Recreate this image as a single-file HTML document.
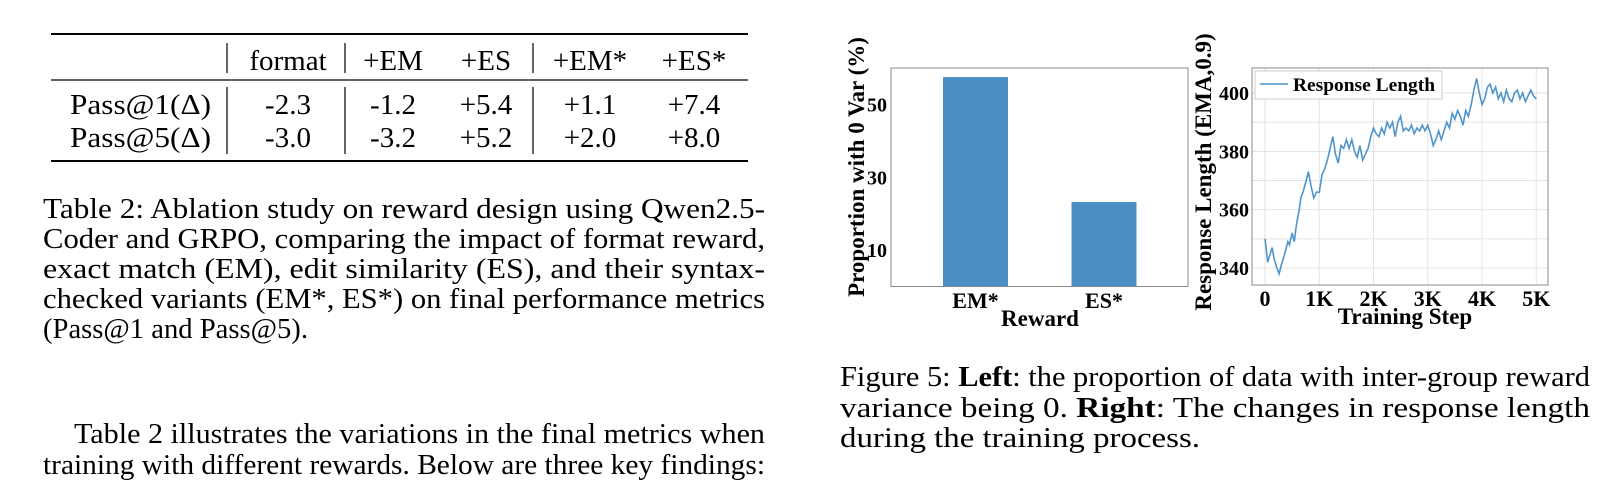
<!DOCTYPE html>
<html><head><meta charset="utf-8"><style>
html,body{margin:0;padding:0;background:#fff;width:1611px;height:491px;overflow:hidden}
svg{display:block}
.t{font-family:"Liberation Serif",serif;fill:#000}
.b{font-weight:bold}
</style></head><body>
<svg id="page" width="1611" height="491" viewBox="0 0 1611 491" xmlns="http://www.w3.org/2000/svg">
<g class="t" font-size="29">
  <line x1="51" y1="34" x2="748" y2="34" stroke="#000" stroke-width="2"/>
  <line x1="51" y1="80" x2="748" y2="80" stroke="#000" stroke-width="1.3"/>
  <line x1="51" y1="161" x2="748" y2="161" stroke="#000" stroke-width="2"/>
  <line x1="227" y1="43" x2="227" y2="73" stroke="#000" stroke-width="1.2"/>
  <line x1="345" y1="43" x2="345" y2="73" stroke="#000" stroke-width="1.2"/>
  <line x1="533" y1="43" x2="533" y2="73" stroke="#000" stroke-width="1.2"/>
  <line x1="227" y1="87" x2="227" y2="154" stroke="#000" stroke-width="1.2"/>
  <line x1="345" y1="87" x2="345" y2="154" stroke="#000" stroke-width="1.2"/>
  <line x1="533" y1="87" x2="533" y2="154" stroke="#000" stroke-width="1.2"/>
  <g text-anchor="middle">
    <text x="288" y="70">format</text>
    <text x="393" y="70">+EM</text>
    <text x="486" y="70">+ES</text>
    <text x="590" y="70">+EM*</text>
    <text x="694" y="70">+ES*</text>
    <text x="288" y="114">-2.3</text><text x="393" y="114">-1.2</text><text x="486" y="114">+5.4</text><text x="590" y="114">+1.1</text><text x="694" y="114">+7.4</text>
    <text x="288" y="147">-3.0</text><text x="393" y="147">-3.2</text><text x="486" y="147">+5.2</text><text x="590" y="147">+2.0</text><text x="694" y="147">+8.0</text>
  </g>
  <text x="70" y="114" textLength="141" lengthAdjust="spacingAndGlyphs">Pass@1(Δ)</text>
  <text x="70" y="147" textLength="141" lengthAdjust="spacingAndGlyphs">Pass@5(Δ)</text>
</g>
<g class="t" font-size="29">
  <text x="43" y="218" textLength="722" lengthAdjust="spacingAndGlyphs">Table 2: Ablation study on reward design using Qwen2.5-</text>
  <text x="43" y="248" textLength="722" lengthAdjust="spacingAndGlyphs">Coder and GRPO, comparing the impact of format reward,</text>
  <text x="43" y="278" textLength="722" lengthAdjust="spacingAndGlyphs">exact match (EM), edit similarity (ES), and their syntax-</text>
  <text x="43" y="308" textLength="722" lengthAdjust="spacingAndGlyphs">checked variants (EM*, ES*) on final performance metrics</text>
  <text x="43" y="338" textLength="265" lengthAdjust="spacingAndGlyphs">(Pass@1 and Pass@5).</text>
</g>
<g class="t" font-size="29">
  <text x="74" y="443" textLength="691" lengthAdjust="spacingAndGlyphs">Table 2 illustrates the variations in the final metrics when</text>
  <text x="43" y="474" textLength="722" lengthAdjust="spacingAndGlyphs">training with different rewards. Below are three key findings:</text>
</g>
<g class="t" font-size="29">
  <text x="840" y="386" textLength="750" lengthAdjust="spacingAndGlyphs">Figure 5: <tspan class="b">Left</tspan>: the proportion of data with inter-group reward</text>
  <text x="840" y="417" textLength="750" lengthAdjust="spacingAndGlyphs">variance being 0. <tspan class="b">Right</tspan>: The changes in response length</text>
  <text x="840" y="447" textLength="360" lengthAdjust="spacingAndGlyphs">during the training process.</text>
</g>
<g id="barchart"></g>
<g id="linechart"></g>
</svg>
<script>
const barCats = ["EM*", "ES*"];
const barVals = [57.5, 23.2];
const barTicks = [10, 30, 50];
const lineSteps = [0,50,100,130,170,220,260,300,350,380,420,450,500,540,580,630,660,700,760,800,850,900,950,1000,1050,1100,1150,1200,1250,1300,1350,1400,1450,1500,1550,1600,1650,1700,1750,1800,1850,1900,1950,2000,2050,2100,2150,2200,2250,2300,2350,2400,2450,2500,2550,2600,2650,2700,2750,2800,2850,2900,2950,3000,3050,3100,3150,3200,3250,3300,3350,3400,3450,3500,3550,3600,3650,3700,3750,3800,3850,3900,3950,4000,4050,4100,4150,4200,4250,4300,4350,4400,4450,4500,4550,4600,4650,4700,4750,4800,4850,4900,4950,5000];
const lineVals = [350,342,345,347,343,340,338,341,344,346,349,348,352,349,355,360,364,366,370,373,368,364,366,366,372,374,377,381,385,379,376,382,381,384,381,384,380,378,382,377,379,381,385,388,386,385,388,386,390,388,390,385,390,392,387,388,387,389,386,388,387,389,387,389,386,382,384,387,384,387,390,388,393,391,394,392,389,394,392,396,401,405,400,396,398,402,403,400,402,398,400,397,401,398,397,400,401,398,400,397,399,401,399,398];
const xTickVals = [0,1000,2000,3000,4000,5000];
const xTickLabels = ["0","1K","2K","3K","4K","5K"];
const yTickVals = [340,360,380,400];
const yGrid = [340,350,360,370,380,390,400];
const NS = "http://www.w3.org/2000/svg";
function mk(p, tag, attrs, txt){const e=document.createElementNS(NS,tag);for(const k in attrs)e.setAttribute(k,attrs[k]);if(txt!==undefined)e.textContent=txt;p.appendChild(e);return e;}
const F='"Liberation Serif", serif';
// bar chart
(function(){
  const g=document.getElementById('barchart');
  const L=891,R=1188,T=68,B=286.5,ymax=60;
  const y=v=>B-(v/ymax)*(B-T);
  const x=i=>975.5+i*128.5;
  barVals.forEach((v,i)=>{
    const r=mk(g,'rect',{x:x(i)-32.5,y:y(v),width:65,height:B-y(v),fill:'#4b8fc4'});
    
    
    const t=mk(g,'text',{x:x(i),y:308,'text-anchor':'middle','font-family':F,'font-weight':'bold','font-size':22},barCats[i]);
    
    
  });
  mk(g,'rect',{x:L,y:T,width:R-L,height:B-T,fill:'none',stroke:'#888','stroke-width':1});
  barTicks.forEach(v=>{
    const t=mk(g,'text',{x:L-4,y:y(v)+7,'text-anchor':'end','font-family':F,'font-weight':'bold','font-size':20},String(v));
    
    
  });
  const xl=mk(g,'text',{x:1040,y:326,'text-anchor':'middle','font-family':F,'font-weight':'bold','font-size':23},'Reward');
  
  
  const yl=mk(g,'text',{x:0,y:0,transform:'translate(864,167) rotate(-90)','text-anchor':'middle','font-family':F,'font-weight':'bold','font-size':23},'Proportion with 0 Var (%)');
  
  
})();
// line chart
(function(){
  const g=document.getElementById('linechart');
  const L=1252,R=1548,T=68,B=285;
  const x=s=>1265+s/1000*54.25;
  const y=v=>268-(v-340)*2.917;
  yGrid.forEach(v=>mk(g,'line',{x1:L,x2:R,y1:y(v),y2:y(v),stroke:'#e3e3e3','stroke-width':1}));
  xTickVals.forEach(v=>mk(g,'line',{x1:x(v),x2:x(v),y1:T,y2:B,stroke:'#e3e3e3','stroke-width':1}));
  const d=lineSteps.map((s,i)=>(i?'L':'M')+x(s).toFixed(1)+','+y(lineVals[i]).toFixed(1)).join(' ');
  const p=mk(g,'path',{d:d,fill:'none',stroke:'#4f95cc','stroke-width':1.6});
  
  
  mk(g,'rect',{x:L,y:T,width:R-L,height:B-T,fill:'none',stroke:'#888','stroke-width':1});
  xTickVals.forEach((v,i)=>{
    const t=mk(g,'text',{x:x(v),y:306,'text-anchor':'middle','font-family':F,'font-weight':'bold','font-size':22},xTickLabels[i]);
    
    
  });
  yTickVals.forEach(v=>{
    const t=mk(g,'text',{x:L-3,y:y(v)+7,'text-anchor':'end','font-family':F,'font-weight':'bold','font-size':20},String(v));
    
    
  });
  const xl=mk(g,'text',{x:1405,y:324,'text-anchor':'middle','font-family':F,'font-weight':'bold','font-size':23},'Training Step');
  
  
  const yl=mk(g,'text',{x:0,y:0,transform:'translate(1211,172) rotate(-90)','text-anchor':'middle','font-family':F,'font-weight':'bold','font-size':23},'Response Length (EMA,0.9)');
  
  
  const lg=mk(g,'g',{});
  
  
  mk(lg,'rect',{x:1255,y:71,width:187,height:28,fill:'#fff',stroke:'#ccc','stroke-width':1});
  mk(lg,'line',{x1:1260,x2:1288,y1:84,y2:84,stroke:'#4f95cc','stroke-width':1.6});
  mk(lg,'text',{x:1293,y:91,'font-family':F,'font-weight':'bold','font-size':19,textLength:142,lengthAdjust:'spacingAndGlyphs'},'Response Length');
})();
</script>
</body></html>
